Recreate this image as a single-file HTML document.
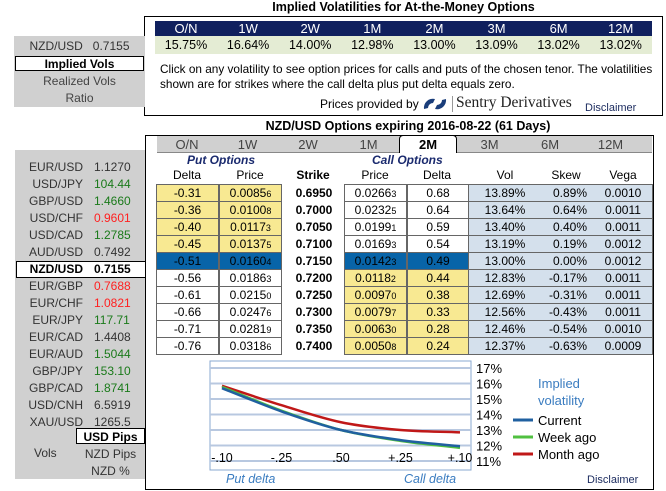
<!DOCTYPE html>
<html><head><meta charset="utf-8"><style>
body{margin:0;width:666px;height:491px;background:#fff;position:relative;overflow:hidden;font-family:"Liberation Sans",Arial,sans-serif;font-size:12px;color:#000}
.a{position:absolute}
.c{text-align:center}
.cell{position:absolute;height:16px;line-height:17px;text-align:center;border:1px solid #666;box-sizing:border-box}
.y{background:#f8e992}.w{background:#fff}.s{background:#0864a8}
sub{font-size:9px;vertical-align:baseline}
</style></head><body>
<div class="a c" style="left:144px;top:0;width:519px;font-weight:bold;font-size:12.5px;line-height:14px">Implied Volatilities for At-the-Money Options</div>
<div class="a" style="left:144px;top:16px;width:517px;height:98px;border:1px solid #000"></div>
<div class="a" style="left:155px;top:21px;width:497px;height:15px;background:#10205e"></div>
<div class="a" style="left:155px;top:36px;width:497px;height:18px;background:#e4ecd4"></div>
<div class="a" style="left:160px;top:62px;width:500px;line-height:14.5px;font-size:11.8px;white-space:nowrap">Click on any volatility to see option prices for calls and puts of the chosen tenor. The volatilities<br>shown are for strikes where the call delta plus put delta equals zero.</div>
<div class="a" style="left:320px;top:97px;font-size:12px">Prices provided by</div>
<svg class="a" style="left:421px;top:95px" width="28" height="18"><path d="M3 14 A9 9 0 0 1 14 4 L12 8 A5 5 0 0 0 7 13Z M25 4 A9 9 0 0 1 14 14 L16 10 A5 5 0 0 0 21 5Z" fill="#1a3d7a"/></svg>
<div class="a" style="left:452px;top:96px;width:1px;height:16px;background:#999"></div>
<div class="a" style="left:456px;top:94px;font-family:'Liberation Serif',serif;font-size:15.5px;color:#222">Sentry Derivatives</div>
<div class="a" style="left:585px;top:102px;font-size:11px;color:#1a2a5e">Disclaimer</div>

<div class="a" style="left:14px;top:36px;width:131px;height:71px;background:#d0d0d0"></div>
<div class="a c" style="left:14px;top:39px;width:131px;color:#333;font-size:12px">NZD/USD&nbsp;&nbsp; 0.7155</div>
<div class="a c" style="left:15px;top:56px;width:129px;height:15px;line-height:15px;background:#fff;border:1px solid #000;box-sizing:border-box;font-weight:bold">Implied Vols</div>
<div class="a c" style="left:14px;top:74px;width:131px;color:#444">Realized Vols</div>
<div class="a c" style="left:14px;top:91px;width:131px;color:#444">Ratio</div>

<div class="a c" style="left:150px;top:119px;width:516px;font-weight:bold;font-size:12.5px">NZD/USD Options expiring 2016-08-22 (61 Days)</div>
<div class="a" style="left:145px;top:135px;width:507px;height:353px;border:1px solid #000"></div>
<div class="a" style="left:157px;top:136px;width:495px;height:16px;background:#d0d0d0;border-bottom:1px solid #888"></div>
<div class="a" style="left:187px;top:153px;font-weight:bold;font-style:italic;color:#1a2a6e">Put Options</div>
<div class="a" style="left:372px;top:153px;font-weight:bold;font-style:italic;color:#1a2a6e">Call Options</div>
<div class="a" style="left:468px;top:184px;width:185px;height:170px;background:#d4e0ec"></div>

<div class="a" style="left:15px;top:150px;width:130px;height:329px;background:#d0d0d0"></div>
<div class="a c" style="left:76px;top:428px;width:69px;height:16px;line-height:16px;background:#fff;border:1px solid #000;box-sizing:border-box;font-weight:bold">USD Pips</div>
<div class="a" style="left:34px;top:446px;color:#333">Vols</div>
<div class="a c" style="left:76px;top:447px;width:69px;color:#333">NZD Pips</div>
<div class="a c" style="left:76px;top:464px;width:69px;color:#333">NZD %</div>

<svg class="a" style="left:0;top:0" width="666" height="491" id="chart"></svg>
<div class="a" style="left:587px;top:474px;font-size:11px;color:#1a2a5e">Disclaimer</div>

<script>
const atmTenors=["O/N","1W","2W","1M","2M","3M","6M","12M"];
const atmVols=["15.75%","16.64%","14.00%","12.98%","13.00%","13.09%","13.02%","13.02%"];
const putDelta=["-0.31","-0.36","-0.40","-0.45","-0.51","-0.56","-0.61","-0.66","-0.71","-0.76"];
const putPrice=["0.0085|6","0.0100|8","0.0117|3","0.0137|5","0.0160|4","0.0186|3","0.0215|0","0.0247|6","0.0281|9","0.0318|6"];
const strikes=["0.6950","0.7000","0.7050","0.7100","0.7150","0.7200","0.7250","0.7300","0.7350","0.7400"];
const callPrice=["0.0266|3","0.0232|5","0.0199|1","0.0169|3","0.0142|3","0.0118|2","0.0097|0","0.0079|7","0.0063|0","0.0050|8"];
const callDelta=["0.68","0.64","0.59","0.54","0.49","0.44","0.38","0.33","0.28","0.24"];
const vols=["13.89%","13.64%","13.40%","13.19%","13.00%","12.83%","12.69%","12.56%","12.46%","12.37%"];
const skews=["0.89%","0.64%","0.40%","0.19%","0.00%","-0.17%","-0.31%","-0.43%","-0.54%","-0.63%"];
const vegas=["0.0010","0.0011","0.0011","0.0012","0.0012","0.0011","0.0011","0.0011","0.0010","0.0009"];
const fxPairs=["EUR/USD","USD/JPY","GBP/USD","USD/CHF","USD/CAD","AUD/USD","NZD/USD","EUR/GBP","EUR/CHF","EUR/JPY","EUR/CAD","EUR/AUD","GBP/JPY","GBP/CAD","USD/CNH","XAU/USD"];
const fxRates=["1.1270","104.44","1.4660","0.9601","1.2785","0.7492","0.7155","0.7688","1.0821","117.71","1.4408","1.5044","153.10","1.8741","6.5919","1265.5"];
const fxDir=[0,1,1,-1,1,0,0,-1,-1,1,0,1,1,1,0,0];
const deltaLabels=["-.10","-.25",".50","+.25","+.10"];
const volTicks=[17,16,15,14,13,12,11];
const currentVol=[15.7,14.2,13.0,12.35,11.95];
const weekVol=[15.78,14.25,13.0,12.3,11.85];
const monthVol=[15.85,14.6,13.5,13.0,12.85];

function mk(tag,parent,style,html){const e=document.createElement(tag);e.className='a';if(style)e.setAttribute('style',style);if(html!=null)e.innerHTML=html;parent.appendChild(e);return e;}
const B=document.body;
function pr(s){const p=s.split('|');return p[0]+'<sub>'+p[1]+'</sub>';}
atmTenors.forEach((t,i)=>{const x=155+i*62.1;
 const h=mk('div',B,`left:${x}px;top:21px;width:62px;text-align:center;color:#fff;font-size:13px;line-height:15px`,t);
 
 
 const v=mk('div',B,`left:${x}px;top:36px;width:62px;text-align:center;font-size:12.5px;line-height:18px;cursor:pointer`,atmVols[i]);
 
 });
atmTenors.forEach((t,i)=>{const x=157+i*60.5;
 const act=t==='2M';
 const e=mk('div',B,`left:${x}px;top:${act?135:136}px;width:${act?58:60}px;height:${act?18:16}px;text-align:center;line-height:17px;font-size:13px;${act?'background:#fff;border:1px solid #000;border-bottom:none;border-radius:4px 4px 0 0;box-sizing:border-box;font-weight:bold;':'color:#444;'}`,t);
 
 });
[["Delta",187],["Price",250],["Strike",313],["Price",375],["Delta",437],["Vol",505],["Skew",566],["Vega",623]].forEach(([t,x])=>{
 const e=mk('div',B,`left:${x-30}px;top:168px;width:60px;text-align:center;${t==='Strike'?'font-weight:bold':''}`,t);
 
 });
strikes.forEach((k,i)=>{const y=184+i*17;const sel=i===4;
 const pc=sel?'s':(i<4?'y':'w'), cc=sel?'s':(i<4?'w':'y');
 const cells=[[putDelta[i],156,63,pc],[pr(putPrice[i]),219,63,pc],[pr(callPrice[i]),344,63,cc],[callDelta[i],407,62,cc]];
 cells.forEach(([t,x,w,c],j)=>{const e=mk('div',B,`left:${x}px;top:${y}px;width:${w}px;height:18px;`,t);e.className='cell '+c;
  
  });
 const s=mk('div',B,`left:285px;top:${y+2}px;width:58px;text-align:center;font-weight:bold`,k);
 
 
 const g=mk('div',B,`left:468px;top:${y}px;width:185px;height:18px;border:1px solid #666;box-sizing:border-box;background:#d4e0ec`);
 
 
 const v=mk('div',B,`left:475px;top:${y+2}px;width:60px;text-align:center`,vols[i]);
 
 const sk=mk('div',B,`left:527px;top:${y+2}px;width:60px;text-align:right`,skews[i]);
 
 const vg=mk('div',B,`left:600px;top:${y+2}px;width:46px;text-align:center`,vegas[i]);
 
});
fxPairs.forEach((p,i)=>{const y=158+i*17;const sel=p==='NZD/USD';
 if(sel){const b=mk('div',B,`left:16px;top:${y+1}px;width:130px;height:17px;background:#fff;border:1px solid #000;box-sizing:border-box`);
  }
 const col=fxDir[i]>0?'#1a7a1a':fxDir[i]<0?'#ff2020':'#333';
 const r=mk('div',B,`left:15px;top:${y+2}px;width:130px;height:16px;cursor:pointer;${sel?'font-weight:bold':''}`,
  `<span style="position:absolute;right:62px;color:${sel?'#000':'#333'}">${p}</span><span style="position:absolute;left:79px;color:${sel?'#000':col}">${fxRates[i]}</span>`);
 
 });
const svg=document.getElementById('chart');const NS='http://www.w3.org/2000/svg';
function el(t,a,txt){const e=document.createElementNS(NS,t);for(const k in a)e.setAttribute(k,a[k]);if(txt!=null)e.textContent=txt;svg.appendChild(e);return e;}
const x0=222,x1=460,yv=v=>368+(17-v)*15.5;const xi=i=>x0+i*(x1-x0)/(deltaLabels.length-1);
const frame=el('rect',{x:210,y:361,width:261,height:109,fill:'#fff',stroke:'#8aa8d0'});

volTicks.forEach(v=>{const g=el('line',{x1:210,x2:471,y1:yv(v),y2:yv(v),stroke:'#b8c8e0','stroke-width':2});
 
 const t=el('text',{x:476,y:yv(v)+5,'font-size':13,fill:'#000','font-family':'Liberation Sans'},v+'%');
 });
deltaLabels.forEach((d,i)=>{const t=el('text',{x:xi(i),y:462,'text-anchor':'middle','font-size':12.5,'font-family':'Liberation Sans'},d);
 });
function path(vals){let d='M'+xi(0)+','+yv(vals[0]);for(let i=1;i<vals.length;i++){const xa=xi(i-1),xb=xi(i);
 const sa=i>1?(vals[i]-vals[i-2])/2:(vals[1]-vals[0]);const sb=i<vals.length-1?(vals[i+1]-vals[i-1])/2:(vals[i]-vals[i-1]);
 d+=` C${xa+(xb-xa)/3},${yv(vals[i-1]+sa/3)} ${xb-(xb-xa)/3},${yv(vals[i]-sb/3)} ${xb},${yv(vals[i])}`;}return d;}
[[monthVol,'#c01818','month-ago-line'],[weekVol,'#50c040','week-ago-line'],[currentVol,'#2060a0','current-line']].forEach(([v,c,n])=>{
 const p=el('path',{d:path(v),fill:'none',stroke:c,'stroke-width':2.5});
 });
const l1=el('text',{x:538,y:388,'font-size':13,fill:'#3a7cc0','font-family':'Liberation Sans'},'Implied');

const l2=el('text',{x:538,y:405,'font-size':13,fill:'#3a7cc0','font-family':'Liberation Sans'},'volatility');

[['Current','#2060a0',424],['Week ago','#50c040',441],['Month ago','#c01818',458]].forEach(([t,c,y])=>{
 const ln=el('line',{x1:513,x2:533,y1:y-4,y2:y-4,stroke:c,'stroke-width':3});
 
 const tx=el('text',{x:538,y:y+1,'font-size':13,'font-family':'Liberation Sans'},t);
 });
const pd=el('text',{x:226,y:483,'font-size':12.5,'font-style':'italic',fill:'#3a7cc0','font-family':'Liberation Sans'},'Put delta');

const cd=el('text',{x:404,y:483,'font-size':12.5,'font-style':'italic',fill:'#3a7cc0','font-family':'Liberation Sans'},'Call delta');

</script>
</body></html>
